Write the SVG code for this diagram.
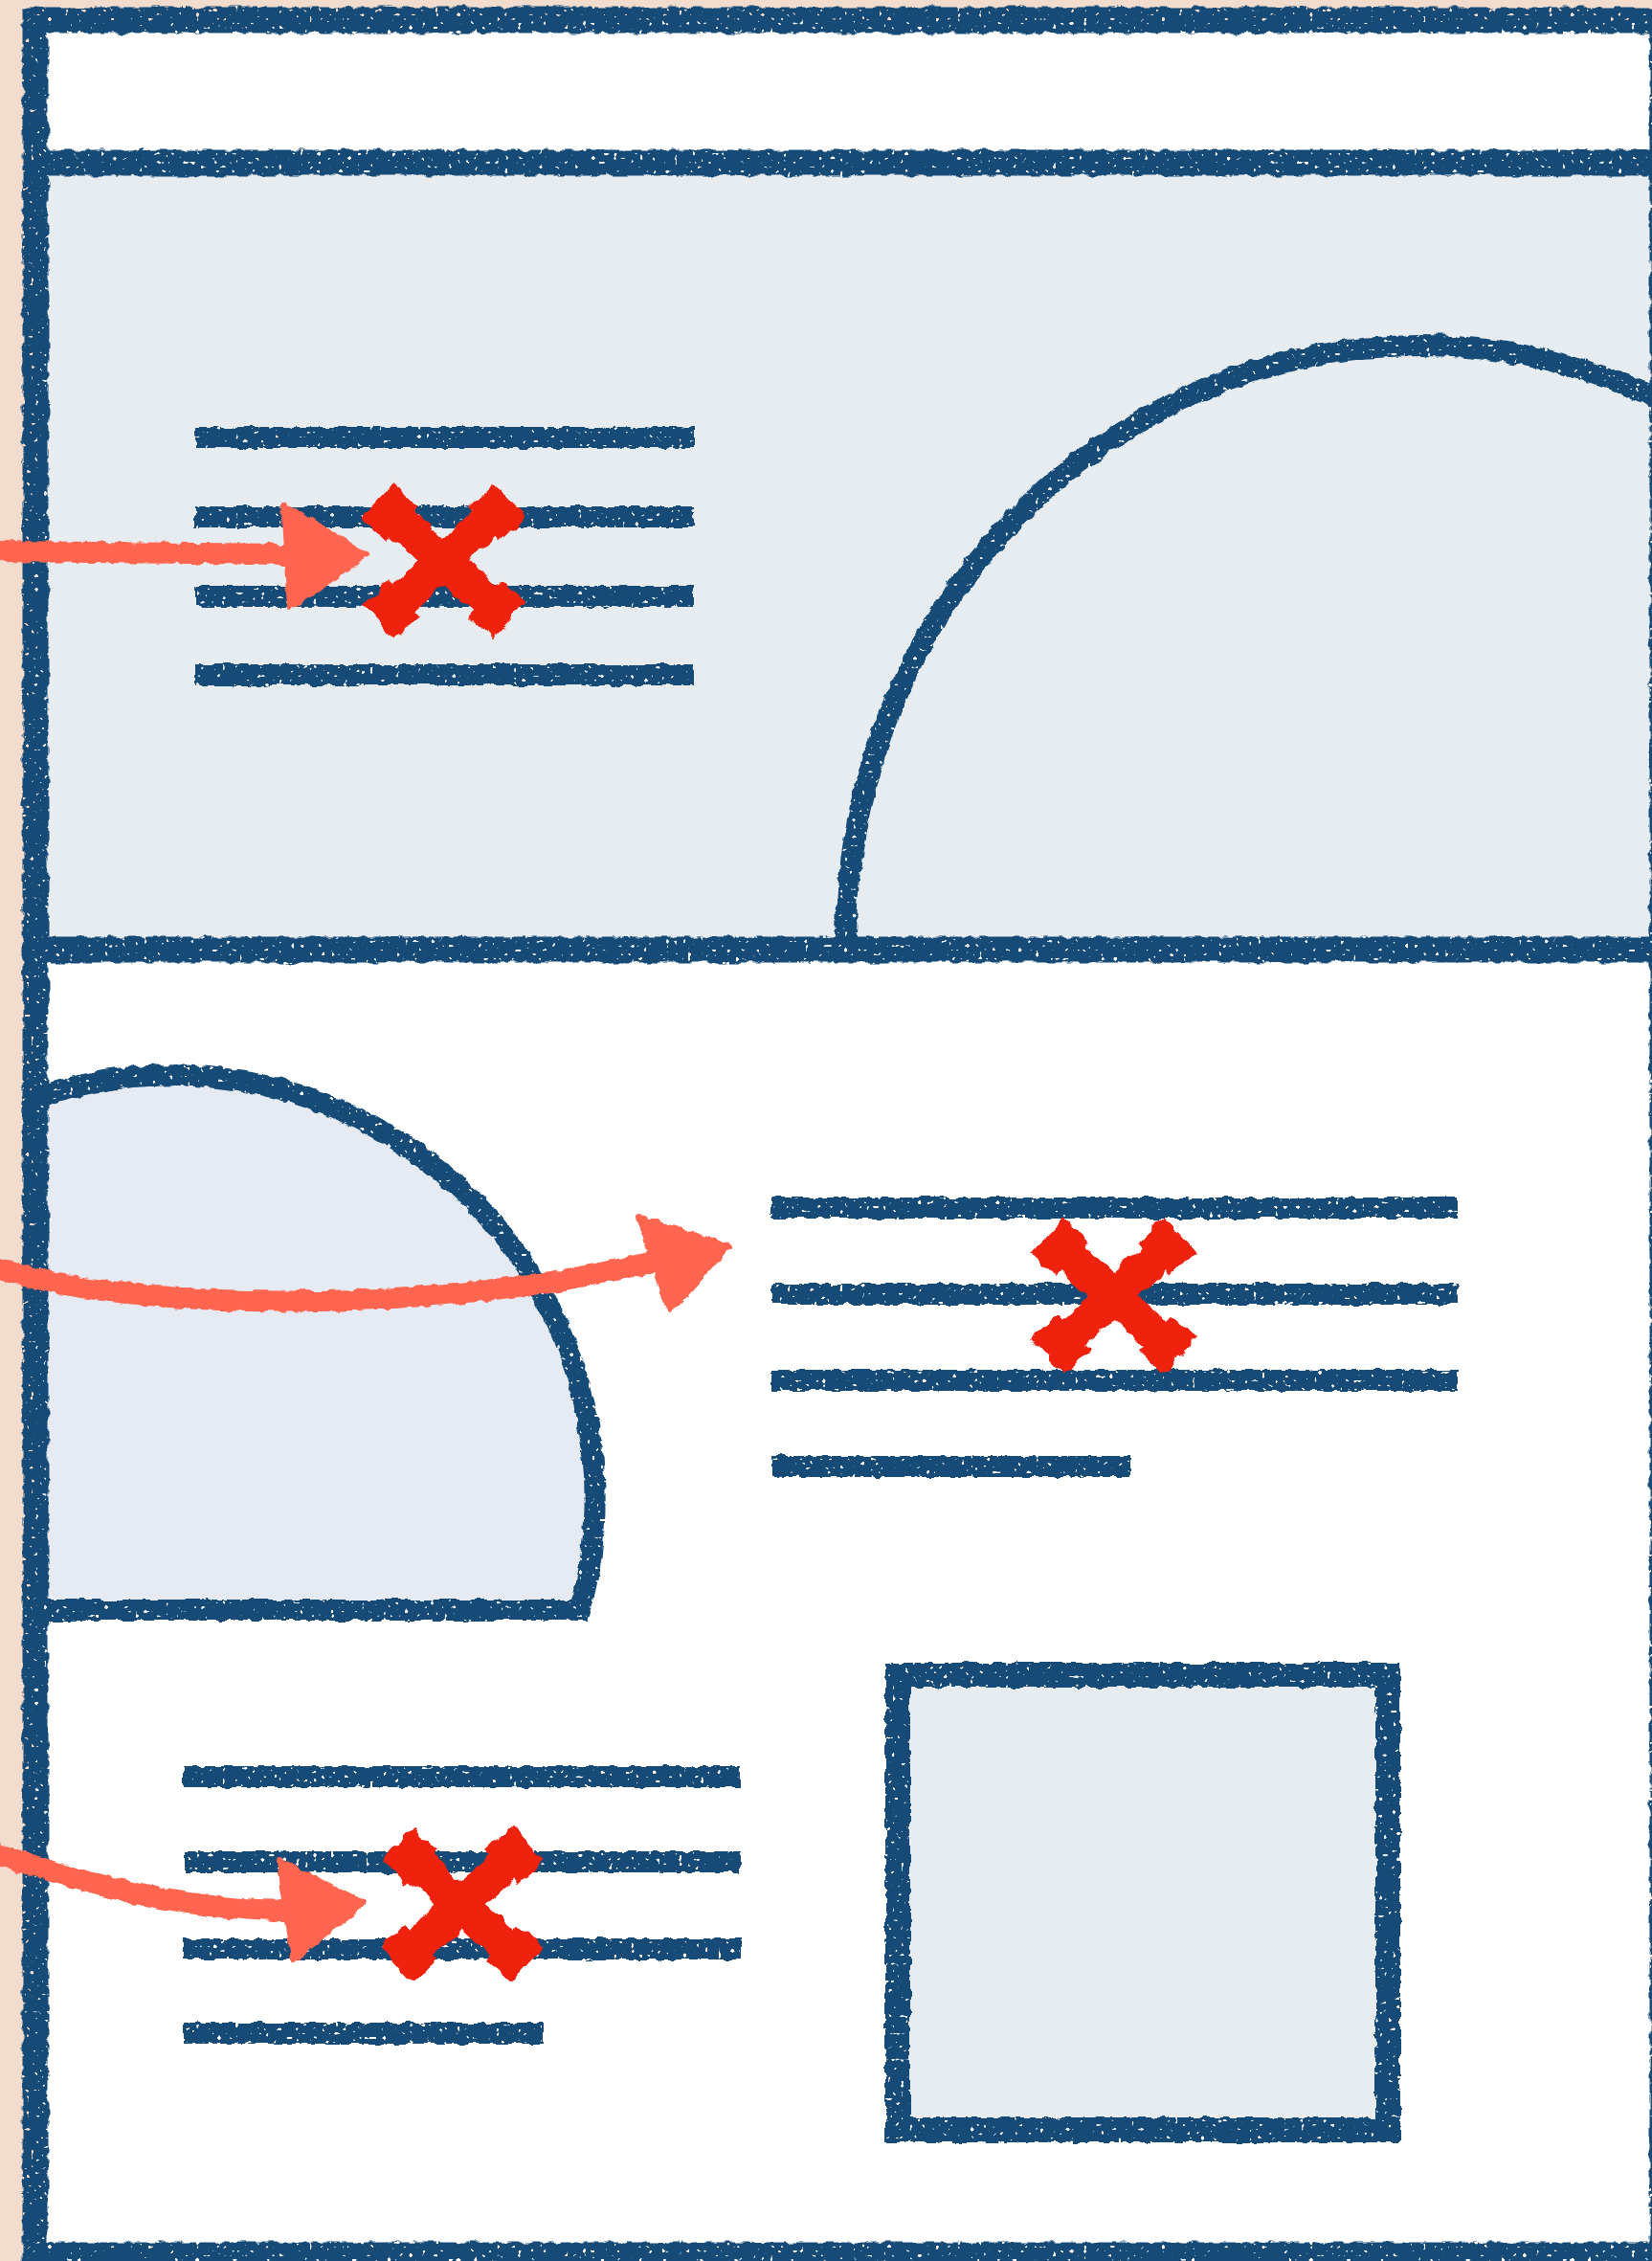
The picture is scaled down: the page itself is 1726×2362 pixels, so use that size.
<svg xmlns="http://www.w3.org/2000/svg" width="1726" height="2362" viewBox="0 0 1726 2362">
  <defs>
    <filter id="rough" filterUnits="userSpaceOnUse" x="-60" y="-60" width="1846" height="2482">
      <feTurbulence type="fractalNoise" baseFrequency="0.09" numOctaves="2" seed="3" result="n"/>
      <feDisplacementMap in="SourceGraphic" in2="n" scale="7" xChannelSelector="R" yChannelSelector="G"/>
    </filter>
    <filter id="chalk" filterUnits="userSpaceOnUse" x="-60" y="-60" width="1846" height="2482">
      <feTurbulence type="fractalNoise" baseFrequency="0.09" numOctaves="2" seed="3" result="n"/>
      <feDisplacementMap in="SourceGraphic" in2="n" scale="7" xChannelSelector="R" yChannelSelector="G" result="d"/>
      <feTurbulence type="fractalNoise" baseFrequency="0.22" numOctaves="1" seed="11" result="s"/>
      <feColorMatrix in="s" type="matrix" values="0 0 0 0 0  0 0 0 0 0  0 0 0 0 0  -25 0 0 0 18" result="m"/>
      <feComposite in="d" in2="m" operator="in"/>
    </filter>
    <filter id="roughX" filterUnits="userSpaceOnUse" x="-60" y="-60" width="1846" height="2482">
      <feTurbulence type="fractalNoise" baseFrequency="0.06" numOctaves="2" seed="7" result="n"/>
      <feDisplacementMap in="SourceGraphic" in2="n" scale="12" xChannelSelector="R" yChannelSelector="G"/>
    </filter>
  </defs>
  <style>
    .ink { fill: none; stroke: #134B77; stroke-linecap: butt; stroke-linejoin: miter; }
    .frame { stroke-width: 27; }
    .txt { stroke-width: 22; }
    .shape { stroke-width: 22; }
    .soft { fill: #E7ECF0; }
    .blobfill { fill: #E6EAF2; }
    .arrow { fill: none; stroke: #FF6550; stroke-width: 22; stroke-linecap: butt; }
    .head { fill: #FF6550; stroke: #FF6550; stroke-width: 6; stroke-linejoin: round; }
    .cross { fill: none; stroke: #EE2211; stroke-width: 36; stroke-linecap: butt; }
    .tip { fill: none; stroke: #EE2211; stroke-width: 50; stroke-linecap: butt; }
  </style>

  <rect x="0" y="0" width="1726" height="2362" fill="#F1DCCE"/>

  <g id="page">
    <rect x="37" y="21" width="1720" height="2360" fill="#FFFFFF"/>
    <rect x="37" y="170" width="1720" height="822" class="soft"/>
  </g>

  <g id="hero-image">
    <path d="M 884 992 L 884 981 A 600 620 0 0 1 1484 361 A 600 620 0 0 1 2084 981 L 2084 992 Z" class="soft" filter="url(#rough)"/>
    <path d="M 884 992 L 884 981 A 600 620 0 0 1 1484 361 A 600 620 0 0 1 2084 981" class="ink shape" filter="url(#chalk)"/>
  </g>

  <g id="blob">
    <path d="M 38 1146 A 442 442 0 0 1 606 1682 L 38 1682 Z" class="blobfill" filter="url(#rough)"/>
    <path d="M 40 1146 A 442 442 0 0 1 606 1682 L 40 1682" class="ink shape" filter="url(#chalk)"/>
  </g>

  <g id="frame" filter="url(#chalk)">
    <rect x="37" y="21" width="1700" height="2335" class="ink frame"/>
    <line x1="37" y1="170" x2="1737" y2="170" class="ink frame"/>
    <line x1="37" y1="992" x2="1737" y2="992" class="ink frame"/>
  </g>

  <g id="hero-text" filter="url(#chalk)">
    <line x1="204" y1="457" x2="725" y2="457" class="ink txt"/>
    <line x1="204" y1="540" x2="725" y2="540" class="ink txt"/>
    <line x1="204" y1="623" x2="725" y2="623" class="ink txt"/>
    <line x1="204" y1="705" x2="725" y2="705" class="ink txt"/>
  </g>

  <g id="middle-text" filter="url(#chalk)">
    <line x1="806" y1="1262" x2="1523" y2="1262" class="ink txt"/>
    <line x1="806" y1="1352" x2="1523" y2="1352" class="ink txt"/>
    <line x1="806" y1="1442" x2="1523" y2="1442" class="ink txt"/>
    <line x1="806" y1="1532" x2="1181" y2="1532" class="ink txt"/>
  </g>

  <g id="bottom-text" filter="url(#chalk)">
    <line x1="192" y1="1856" x2="774" y2="1856" class="ink txt"/>
    <line x1="192" y1="1945" x2="774" y2="1945" class="ink txt"/>
    <line x1="192" y1="2036" x2="774" y2="2036" class="ink txt"/>
    <line x1="192" y1="2124" x2="568" y2="2124" class="ink txt"/>
  </g>

  <g id="square">
    <rect x="938" y="1750" width="512" height="475" class="soft" filter="url(#rough)"/>
    <rect x="938" y="1750" width="512" height="475" class="ink" stroke-width="26" filter="url(#chalk)"/>
  </g>

  <g id="connectors" filter="url(#rough)">
    <g id="arrow-1">
      <path d="M -10 576 C 100 577, 200 578, 305 579" class="arrow"/>
      <polygon points="296,526 382,580 303,635" class="head"/>
    </g>
    <g id="arrow-2">
      <path d="M -10 1322 C 120 1370, 450 1375, 682 1318" class="arrow"/>
      <polygon points="668,1272 761,1302 700,1370" class="head"/>
    </g>
    <g id="arrow-3">
      <path d="M -10 1934 C 80 1965, 180 1995, 300 1996" class="arrow"/>
      <polygon points="292,1944 380,1988 307,2047" class="head"/>
    </g>
  </g>

  <g id="cross-1" filter="url(#roughX)">
    <line x1="395" y1="523" x2="532" y2="649" class="cross"/>
    <line x1="532" y1="523" x2="395" y2="649" class="cross"/>
    <path d="M 395 523 L 421 547 M 506 625 L 532 649 M 532 523 L 506 547 M 421 625 L 395 649" class="tip"/>
  </g>
  <g id="cross-2" filter="url(#roughX)">
    <line x1="1095" y1="1291" x2="1232" y2="1417" class="cross"/>
    <line x1="1232" y1="1291" x2="1095" y2="1417" class="cross"/>
    <path d="M 1095 1291 L 1121 1315 M 1206 1393 L 1232 1417 M 1232 1291 L 1206 1315 M 1121 1393 L 1095 1417" class="tip"/>
  </g>
  <g id="cross-3" filter="url(#roughX)">
    <line x1="415" y1="1927" x2="550" y2="2053" class="cross"/>
    <line x1="550" y1="1927" x2="415" y2="2053" class="cross"/>
    <path d="M 415 1927 L 441 1951 M 524 2029 L 550 2053 M 550 1927 L 524 1951 M 441 2029 L 415 2053" class="tip"/>
  </g>
</svg>
